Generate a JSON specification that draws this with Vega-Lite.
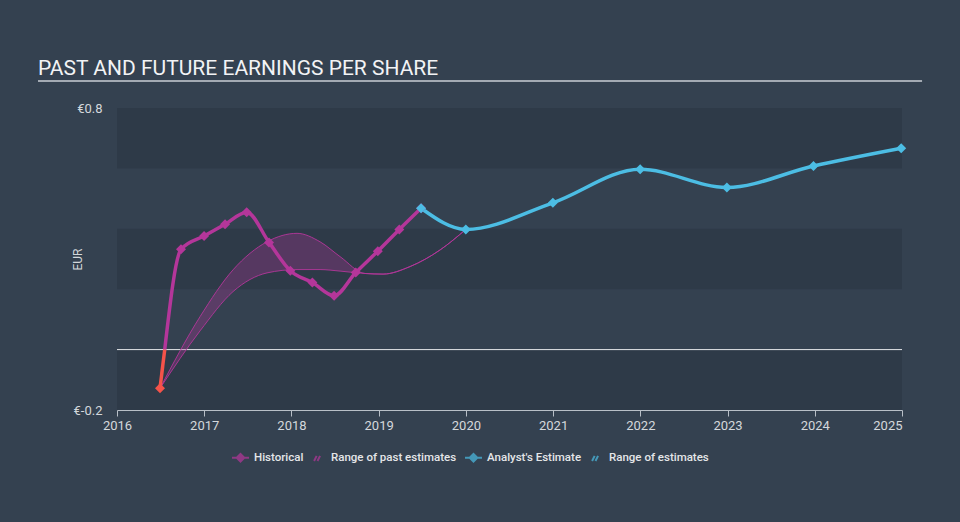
{
  "$schema": "https://vega.github.io/schema/vega-lite/v6.json",
  "width": 785,
  "height": 302,
  "autosize": {"type": "none"},
  "padding": {"left": 117, "top": 108, "right": 58, "bottom": 112},
  "background": "#344150",
  "config": {
    "view": {"stroke": null},
    "font": "Roboto",
    "axis": {"grid": false, "labelFont": "Roboto", "titleFont": "Roboto"}
  },
  "title": {
    "text": "PAST AND FUTURE EARNINGS PER SHARE",
    "anchor": "start",
    "frame": "group",
    "dx": -79,
    "dy": 19,
    "offset": 20,
    "fontSize": 21,
    "fontWeight": "normal",
    "font": "Roboto",
    "color": "#f2f3f5"
  },
  "datasets": {
    "bands": [
      {"lo": -0.2, "hi": 0.0},
      {"lo": 0.2, "hi": 0.4},
      {"lo": 0.6, "hi": 0.8}
    ],
    "hist": [
      {"x": 2016.493, "eps": -0.128},
      {"x": 2016.734, "eps": 0.332},
      {"x": 2016.998, "eps": 0.376},
      {"x": 2017.239, "eps": 0.415},
      {"x": 2017.487, "eps": 0.455},
      {"x": 2017.743, "eps": 0.355},
      {"x": 2017.987, "eps": 0.261},
      {"x": 2018.240, "eps": 0.222},
      {"x": 2018.489, "eps": 0.178},
      {"x": 2018.737, "eps": 0.255},
      {"x": 2018.990, "eps": 0.326},
      {"x": 2019.237, "eps": 0.398},
      {"x": 2019.486, "eps": 0.468}
    ],
    "hist_line": [
      {"x": 2016.547, "eps": 0.0},
      {"x": 2016.734, "eps": 0.332},
      {"x": 2016.998, "eps": 0.376},
      {"x": 2017.239, "eps": 0.415},
      {"x": 2017.487, "eps": 0.455},
      {"x": 2017.743, "eps": 0.355},
      {"x": 2017.987, "eps": 0.261},
      {"x": 2018.240, "eps": 0.222},
      {"x": 2018.489, "eps": 0.178},
      {"x": 2018.737, "eps": 0.255},
      {"x": 2018.990, "eps": 0.326},
      {"x": 2019.237, "eps": 0.398},
      {"x": 2019.486, "eps": 0.468}
    ],
    "hist_neg": [
      {"x": 2016.493, "eps": -0.128},
      {"x": 2016.547, "eps": 0.0}
    ],
    "forecast": [
      {"x": 2019.486, "eps": 0.468},
      {"x": 2019.999, "eps": 0.398},
      {"x": 2020.997, "eps": 0.486},
      {"x": 2021.998, "eps": 0.597},
      {"x": 2022.992, "eps": 0.537},
      {"x": 2023.985, "eps": 0.608},
      {"x": 2024.991, "eps": 0.667}
    ],
    "past_range": [
      {"x": 2016.493, "lo": -0.128, "hi": -0.128},
      {"x": 2016.952, "lo": 0.062, "hi": 0.109},
      {"x": 2017.330, "lo": 0.192, "hi": 0.264},
      {"x": 2017.720, "lo": 0.254, "hi": 0.357},
      {"x": 2018.064, "lo": 0.265, "hi": 0.385},
      {"x": 2018.328, "lo": 0.265, "hi": 0.357},
      {"x": 2018.557, "lo": 0.260, "hi": 0.308},
      {"x": 2018.844, "lo": 0.252, "hi": 0.252},
      {"x": 2019.050, "lo": 0.250, "hi": 0.250},
      {"x": 2019.360, "lo": 0.275, "hi": 0.275},
      {"x": 2019.704, "lo": 0.330, "hi": 0.330},
      {"x": 2019.999, "lo": 0.398, "hi": 0.398}
    ]
  },
  "layer": [
    {
      "data": {"name": "bands"},
      "mark": {"type": "rect", "color": "#2e3a48"},
      "encoding": {
        "y": {
          "field": "lo",
          "type": "quantitative",
          "scale": {"domain": [-0.2, 0.8], "nice": false, "zero": false},
          "axis": {
            "title": "EUR",
            "values": [-0.2, 0.8],
            "labelExpr": "datum.value < 0 ? '€-' + format(-datum.value, '.1f') : '€' + format(datum.value, '.1f')",
            "ticks": false,
            "domain": false,
            "labelPadding": 15,
            "labelColor": "#d4d8dc",
            "labelFontSize": 13,
            "titleColor": "#d4d8dc",
            "titleFontSize": 12,
            "titleFontWeight": "normal",
            "titleX": -40,
            "titleY": 151,
            "titleBaseline": "middle"
          }
        },
        "y2": {"field": "hi"}
      }
    },
    {
      "data": {"values": [{}]},
      "mark": {"type": "rule", "color": "#e6e8ea", "strokeWidth": 1},
      "encoding": {"y": {"datum": 0, "type": "quantitative"}}
    },
    {
      "data": {"name": "past_range"},
      "mark": {"type": "area", "interpolate": "monotone", "color": "#b4369a", "opacity": 0.3},
      "encoding": {
        "x": {
          "field": "x",
          "type": "quantitative",
          "scale": {"domain": [2016, 2025], "nice": false, "zero": false},
          "axis": {
            "title": null,
            "values": [2016, 2017, 2018, 2019, 2020, 2021, 2022, 2023, 2024, 2025],
            "format": "d",
            "labelFlush": false,
            "labelAlign": {"expr": "datum.value == 2025 ? 'right' : 'center'"},
            "domainColor": "#b8bfc7",
            "tickColor": "#b8bfc7",
            "tickSize": 6,
            "labelColor": "#d4d8dc",
            "labelFontSize": 13,
            "labelPadding": 3
          }
        },
        "y": {"field": "lo", "type": "quantitative"},
        "y2": {"field": "hi"}
      }
    },
    {
      "data": {"name": "past_range"},
      "mark": {"type": "line", "interpolate": "monotone", "color": "#b4369a", "strokeWidth": 1, "opacity": 0.9},
      "encoding": {
        "x": {"field": "x", "type": "quantitative"},
        "y": {"field": "lo", "type": "quantitative"}
      }
    },
    {
      "data": {"name": "past_range"},
      "mark": {"type": "line", "interpolate": "monotone", "color": "#b4369a", "strokeWidth": 1, "opacity": 0.9},
      "encoding": {
        "x": {"field": "x", "type": "quantitative"},
        "y": {"field": "hi", "type": "quantitative"}
      }
    },
    {
      "data": {"name": "hist_line"},
      "mark": {"type": "line", "interpolate": "monotone", "color": "#b4369a", "strokeWidth": 3.5},
      "encoding": {
        "x": {"field": "x", "type": "quantitative"},
        "y": {"field": "eps", "type": "quantitative"}
      }
    },
    {
      "data": {"name": "hist_neg"},
      "mark": {"type": "line", "color": "#f5534a", "strokeWidth": 3.5},
      "encoding": {
        "x": {"field": "x", "type": "quantitative"},
        "y": {"field": "eps", "type": "quantitative"}
      }
    },
    {
      "data": {"name": "forecast"},
      "mark": {"type": "line", "interpolate": "monotone", "color": "#4cbde4", "strokeWidth": 3.5},
      "encoding": {
        "x": {"field": "x", "type": "quantitative"},
        "y": {"field": "eps", "type": "quantitative"}
      }
    },
    {
      "data": {"name": "hist"},
      "mark": {"type": "point", "shape": "diamond", "filled": true, "size": 100, "opacity": 1},
      "encoding": {
        "x": {"field": "x", "type": "quantitative"},
        "y": {"field": "eps", "type": "quantitative"},
        "color": {"condition": {"test": "datum.eps < 0", "value": "#f5534a"}, "value": "#b4369a"}
      }
    },
    {
      "data": {"name": "forecast"},
      "mark": {"type": "point", "shape": "diamond", "filled": true, "size": 100, "opacity": 1, "color": "#4cbde4"},
      "encoding": {
        "x": {"field": "x", "type": "quantitative"},
        "y": {"field": "eps", "type": "quantitative"}
      }
    },
    {
      "data": {"values": []},
      "mark": {"type": "point", "filled": false, "strokeWidth": 2},
      "encoding": {
        "color": {
          "field": "series",
          "type": "nominal",
          "scale": {
            "domain": ["Historical", "Range of past estimates", "Analyst's Estimate", "Range of estimates"],
            "range": ["#b4369a", "#b4369a", "#4cbde4", "#4cbde4"]
          },
          "legend": {
            "title": null,
            "orient": "none",
            "legendX": 114,
            "legendY": 340,
            "direction": "horizontal",
            "symbolSize": 289,
            "symbolStrokeWidth": 2,
            "labelColor": "#e4e6e8",
            "labelFontSize": 11.5,
            "labelFont": "Roboto",
            "labelFontWeight": 500,
            "labelOffset": 4,
            "columnPadding": 4,
            "padding": 0,
            "encode": {
              "symbols": {
                "update": {
                  "fill": {"scale": "color", "field": "value"},
                  "stroke": {"scale": "color", "field": "value"},
                  "strokeWidth": {"value": 2},
                  "strokeOpacity": {"value": 1},
                  "fillOpacity": {"value": 1},
                  "opacity": {"value": 1}
                }
              }
            }
          }
        },
        "shape": {
          "field": "series",
          "type": "nominal",
          "scale": {
            "domain": ["Historical", "Range of past estimates", "Analyst's Estimate", "Range of estimates"],
            "range": [
              "M-1,0L1,0M0,-0.45L0.45,0L0,0.45L-0.45,0ZM0,-0.28L0.28,0L0,0.28L-0.28,0ZM0,-0.12L0.12,0L0,0.12L-0.12,0Z",
              "M-0.4,0.3L-0.1,-0.3M0.0,0.3L0.3,-0.3",
              "M-1,0L1,0M0,-0.45L0.45,0L0,0.45L-0.45,0ZM0,-0.28L0.28,0L0,0.28L-0.28,0ZM0,-0.12L0.12,0L0,0.12L-0.12,0Z",
              "M-0.4,0.3L-0.1,-0.3M0.0,0.3L0.3,-0.3"
            ]
          }
        }
      }
    },
    {
      "data": {"values": [{}]},
      "mark": {"type": "rule", "color": "#c9ced4", "strokeWidth": 1.5},
      "encoding": {
        "x": {"datum": 2015.094, "type": "quantitative"},
        "x2": {"datum": 2025.23},
        "y": {"datum": 0.889, "type": "quantitative"}
      }
    }
  ]
}
